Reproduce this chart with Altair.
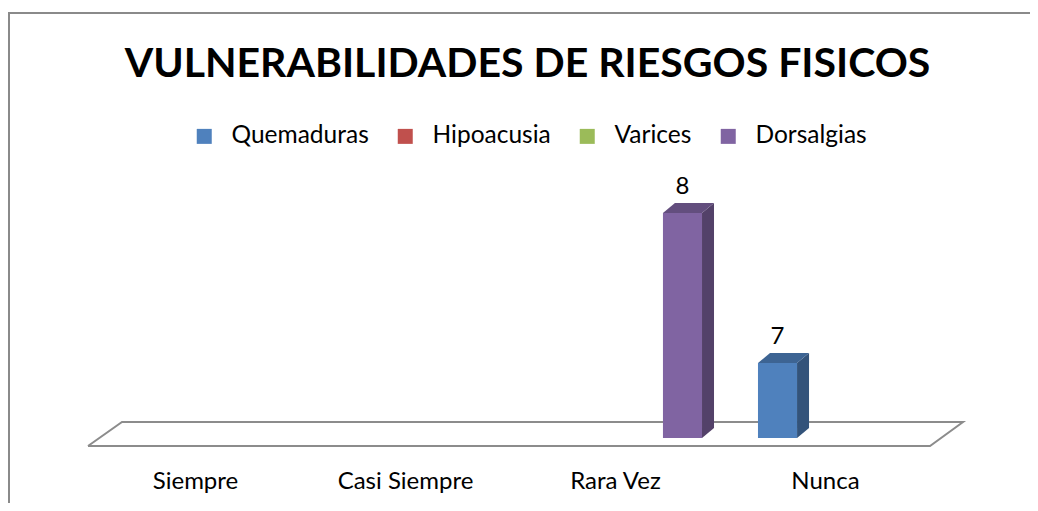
import json
import altair as alt
import pandas as pd

# ---------------- data ----------------
categories = ["Siempre", "Casi Siempre", "Rara Vez", "Nunca"]
series = ["Quemaduras", "Hipoacusia", "Varices", "Dorsalgias"]
quemaduras = [0, 0, 0, 7]
hipoacusia = [0, 0, 0, 0]
varices = [0, 0, 0, 0]
dorsalgias = [0, 0, 8, 0]
title_text = "VULNERABILIDADES DE RIESGOS FISICOS"

# ---------------- style ----------------
colors = ["#4F81BD", "#C0504D", "#9BBB59", "#8064A2"]
FONT = "Lato"
Y_MIN, Y_MAX = 6.5, 8.22           # value axis range (hidden)
W, H = 840, 258                    # plot area
SLOT = 0.1825                      # width of one series slot (in category units)
BAR_W = 0.186                      # bar width (category units)
SHIFT = 0.0476                     # 3-D projection shift
DX = 12 / (W / 4)                  # bar depth in x units (12 px)
DY = 10 / (H / (Y_MAX - Y_MIN))    # bar depth in y units (10 px)


def shade(hexcol, f):
    r, g, b = (int(hexcol[i:i + 2], 16) for i in (1, 3, 5))
    return "#%02x%02x%02x" % (int(r * f), int(g * f), int(b * f))


values = [quemaduras, hipoacusia, varices, dorsalgias]
rows = []
for s, (name, vals) in enumerate(zip(series, values)):
    for c, cat in enumerate(categories):
        center = c + 0.5 + SHIFT + (s - 1.5) * SLOT
        rows.append(dict(serie=name, cat=cat, value=vals[c], xc=center,
                         xl=center - BAR_W / 2, xr=center + BAR_W / 2,
                         base=Y_MIN, side=shade(colors[s], 0.65),
                         top=shade(colors[s], 0.78), id=f"{s}-{c}"))
bars = pd.DataFrame(rows)
bars = bars[bars["value"] > 0]

side_rows, top_rows = [], []
for _, r in bars.iterrows():
    v, b = r["value"], r["base"]
    side_rows += [dict(id=r["id"], col=r["side"], x=r["xr"], y=v, y2=b),
                  dict(id=r["id"], col=r["side"], x=r["xr"] + DX, y=v + DY, y2=b + DY)]
    top_rows += [dict(id=r["id"], col=r["top"], x=r["xl"], y=v, y2=v),
                 dict(id=r["id"], col=r["top"], x=r["xl"] + DX, y=v + DY, y2=v),
                 dict(id=r["id"], col=r["top"], x=r["xr"], y=v + DY, y2=v),
                 dict(id=r["id"], col=r["top"], x=r["xr"] + DX, y=v + DY, y2=v + DY)]
side_df = pd.DataFrame(side_rows)
top_df = pd.DataFrame(top_rows)

# floor (3-D category plane)
FRONT = Y_MIN - 8 / (H / (Y_MAX - Y_MIN))
BACK = Y_MIN + 16 / (H / (Y_MAX - Y_MIN))
fx0, fx1 = -2 / (W / 4), 4
bx0, bx1 = 32 / (W / 4), 4 + 33 / (W / 4)
floor_df = pd.DataFrame(dict(
    x=[fx0, fx1, bx1, bx0, fx0],
    y=[FRONT, FRONT, BACK, BACK, FRONT],
    o=[0, 1, 2, 3, 4]))

xs = alt.Scale(domain=[0, 4], nice=False, zero=False)
ys = alt.Scale(domain=[Y_MIN, Y_MAX], nice=False, zero=False)

label_expr = json.dumps(categories) + "[floor(datum.value)]"

border = alt.Chart(pd.DataFrame({"a": [0]})).mark_rect(
    fill=None, stroke="#8a8a8a", strokeWidth=2
).encode(x=alt.value(-81), x2=alt.value(1100), y=alt.value(-167), y2=alt.value(600))

floor = alt.Chart(floor_df).mark_line(color="#8c8c8c", strokeWidth=2).encode(
    x=alt.X("x:Q", scale=xs,
            axis=alt.Axis(values=[0.5, 1.5, 2.5, 3.5], labelExpr=label_expr,
                          domain=False, ticks=False, grid=False, title=None,
                          labelFont=FONT, labelFontSize=24, labelColor="black",
                          labelBaseline="alphabetic", labelPadding=50)),
    y=alt.Y("y:Q", scale=ys, axis=None),
    order="o:Q")

side = alt.Chart(side_df).mark_area(orient="vertical").encode(
    x=alt.X("x:Q", scale=xs),
    y=alt.Y("y:Q", scale=ys, stack=None),
    y2="y2:Q",
    detail="id:N",
    color=alt.Color("col:N", scale=None))

top = alt.Chart(top_df).mark_area(orient="vertical").encode(
    x=alt.X("x:Q", scale=xs),
    y=alt.Y("y:Q", scale=ys, stack=None),
    y2="y2:Q",
    detail="id:N",
    color=alt.Color("col:N", scale=None))

front = alt.Chart(bars).mark_rect().encode(
    x=alt.X("xl:Q", scale=xs),
    x2="xr:Q",
    y=alt.Y("value:Q", scale=ys),
    y2="base:Q",
    color=alt.Color("serie:N",
                    scale=alt.Scale(domain=series, range=colors),
                    legend=alt.Legend(orient="none", legendX=102, legendY=-56,
                                      direction="horizontal", title=None,
                                      symbolType="square", symbolSize=225,
                                      symbolStrokeWidth=0, labelFont=FONT,
                                      labelFontSize=24.5, labelOffset=15,
                                      columnPadding=24, labelColor="black")))

labels = alt.Chart(bars).mark_text(
    font=FONT, fontSize=24, baseline="alphabetic", dy=-19, color="black"
).encode(
    x=alt.X("xc:Q", scale=xs),
    y=alt.Y("value:Q", scale=ys),
    text="value:Q")

title = alt.Chart(pd.DataFrame({"t": [title_text]})).mark_text(
    font=FONT, fontSize=41, fontWeight="bold", baseline="alphabetic",
    align="center", color="black"
).encode(x=alt.value(437.5), y=alt.value(-103), text="t:N")

chart = alt.layer(border, floor, side, top, front, labels, title).properties(
    width=W, height=H,
    autosize=alt.AutoSizeParams(type="none"),
    padding={"left": 82, "top": 172, "right": 100, "bottom": 65},
).configure_view(stroke=None)

chart.save("out.html", embed_options={"renderer": "svg", "actions": False})
